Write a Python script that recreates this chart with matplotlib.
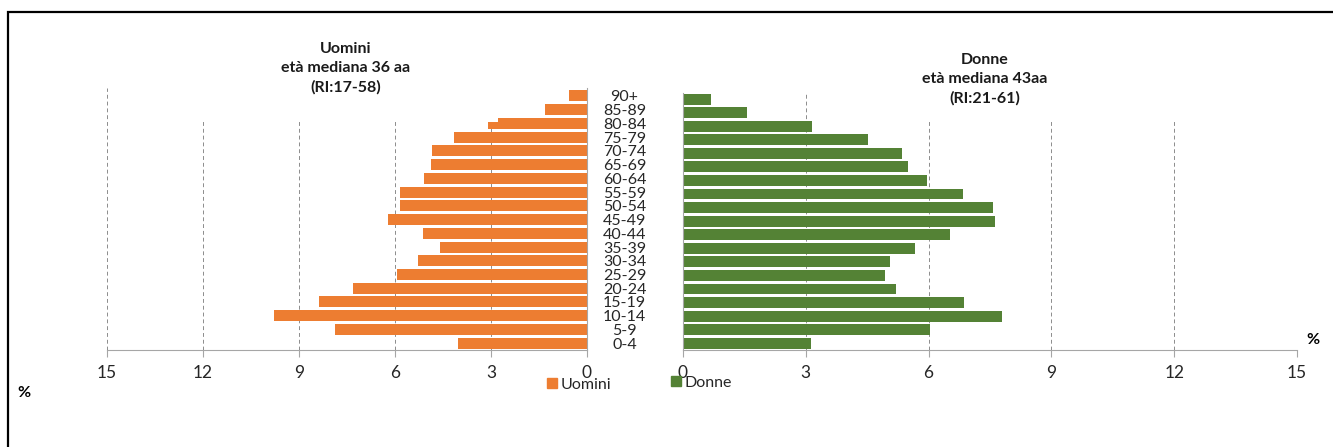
import matplotlib
matplotlib.use("Agg")
import matplotlib.pyplot as plt
from matplotlib.patches import Rectangle, Patch

plt.rcParams['font.family'] = ['Lato', 'DejaVu Sans']

# Distribuzione per classi di età (%)
fasce = ["0-4", "5-9", "10-14", "15-19", "20-24", "25-29", "30-34", "35-39",
         "40-44", "45-49", "50-54", "55-59", "60-64", "65-69", "70-74",
         "75-79", "80-84", "85-89", "90+"]
uomini = [4.02, 7.89, 9.77, 8.36, 7.30, 5.95, 5.27, 4.58, 5.11, 6.23,
          5.84, 5.84, 5.08, 4.89, 4.83, 4.17, 3.10, 1.31, 0.55]
donne = [3.12, 6.03, 7.80, 6.87, 5.20, 4.93, 5.06, 5.66, 6.53, 7.63,
         7.57, 6.84, 5.96, 5.50, 5.35, 4.53, 3.14, 1.57, 0.69]
tacche = [0, 3, 6, 9, 12, 15]

arancio = '#ED7D31'
verde = '#548235'
grigio = '#A6A6A6'
testo = '#262626'

W, H = 1333, 447
fig = plt.figure(figsize=(W / 100, H / 100), dpi=100)
ax_u = fig.add_axes([107 / W, 1 - 350 / H, 480 / W, 262 / H])
ax_d = fig.add_axes([683 / W, 1 - 350 / H, 614 / W, 257 / H])

pos = list(range(len(fasce)))
ax_u.barh(pos, uomini, height=0.8, color=arancio, zorder=2)
ax_d.barh(pos, donne, height=0.8, color=verde, zorder=2)

ax_u.set_xlim(15, 0)
ax_u.set_ylim(-0.5, 18.58)
ax_d.set_xlim(0, 15)
ax_d.set_ylim(-0.5, 18.45)

for ax in (ax_u, ax_d):
    ax.set_xticks(tacche)
    ax.grid(axis='x', color='#8C8C8C', linestyle=(0, (4, 3)), linewidth=0.7)
    ax.set_axisbelow(True)
    ax.spines['top'].set_visible(False)
    ax.spines['bottom'].set_color(grigio)
    ax.tick_params(axis='x', direction='out', length=5, color=grigio,
                   labelsize=12.5, pad=6, labelcolor=testo)

# asse centrale con le etichette delle classi
ax_u.spines['left'].set_visible(False)
ax_u.spines['right'].set_color(grigio)
ax_u.yaxis.tick_right()
ax_u.set_yticks(pos, labels=fasce)
ax_u.tick_params(axis='y', length=0, pad=27, labelsize=11.5, labelcolor=testo)
for t in ax_u.get_yticklabels():
    t.set_horizontalalignment('center')

ax_d.spines['right'].set_visible(False)
ax_d.spines['left'].set_color(grigio)
ax_d.set_yticks([])

# riquadri bianchi dei titoli sopra la griglia
ax_u.add_patch(Rectangle((0.09, 0.87), 0.725, 0.2, transform=ax_u.transAxes,
                         facecolor='white', edgecolor='none', zorder=3))
ax_d.add_patch(Rectangle((0.256, 0.891), 0.586, 0.2, transform=ax_d.transAxes,
                         facecolor='white', edgecolor='none', zorder=3))

fig.text(346 / W, 1 - 68.5 / H, "Uomini\netà mediana 36 aa\n(RI:17-58)",
         ha='center', va='center', fontweight='bold', fontsize=11.5,
         linespacing=1.45, color='#1a1a1a')
fig.text(985 / W, 1 - 79.5 / H, "Donne\netà mediana 43aa\n(RI:21-61)",
         ha='center', va='center', fontweight='bold', fontsize=11.5,
         linespacing=1.45, color='#1a1a1a')

fig.legend(handles=[Patch(color=arancio, label='Uomini')],
           loc='center left', bbox_to_anchor=(547 / W, 1 - 385 / H),
           frameon=False, handlelength=0.6, handleheight=0.6,
           handletextpad=0.25, borderpad=0, borderaxespad=0, fontsize=11.5,
           labelcolor=testo)
fig.legend(handles=[Patch(color=verde, label='Donne')],
           loc='center left', bbox_to_anchor=(671 / W, 1 - 383 / H),
           frameon=False, handlelength=0.6, handleheight=0.6,
           handletextpad=0.25, borderpad=0, borderaxespad=0, fontsize=11.5,
           labelcolor=testo)

fig.text(24 / W, 1 - 393 / H, '%', ha='center', va='center',
         fontweight='bold', fontsize=11.5)
fig.text(1313 / W, 1 - 340 / H, '%', ha='center', va='center',
         fontweight='bold', fontsize=11.5)

# cornice esterna
fig.add_artist(Rectangle((8 / W, -0.1), 1.2, 1 - 12 / H + 0.1,
                         transform=fig.transFigure, fill=False,
                         edgecolor='black', linewidth=1.6))

fig.savefig('out.png', dpi=100)
